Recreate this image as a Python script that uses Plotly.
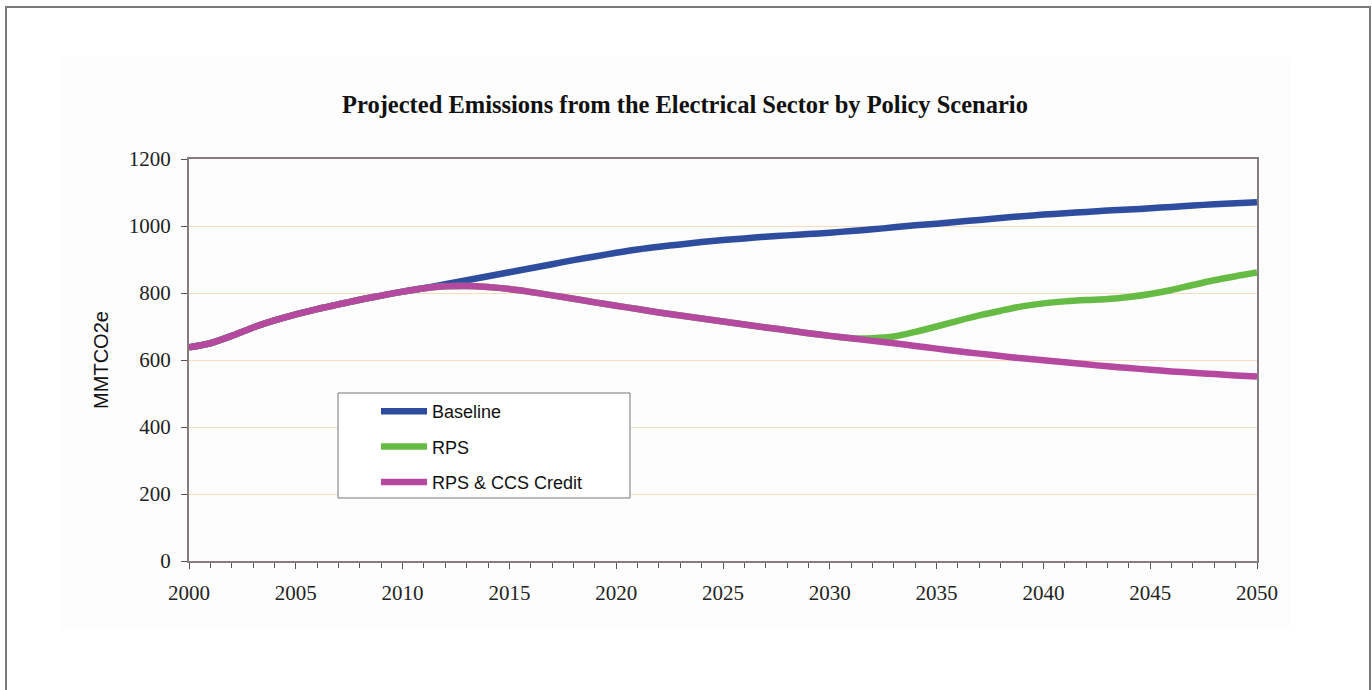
import plotly.graph_objects as go

years = list(range(2000, 2051))

baseline = [638, 650, 672, 697, 718, 736, 752, 766, 780, 792,
            804, 814, 826, 838, 850, 862, 874, 886, 898, 909,
            920, 930, 938, 945, 952, 958, 963, 968, 972, 976,
            980, 985, 990, 996, 1002, 1007, 1013, 1018, 1024, 1029,
            1034, 1038, 1042, 1046, 1049, 1053, 1057, 1061, 1065, 1068,
            1071]

rps_ccs = [638, 650, 672, 697, 718, 736, 752, 766, 780, 792,
           804, 814, 820, 821, 818, 812, 803, 793, 783, 772,
           762, 752, 742, 733, 724, 715, 706, 697, 689, 680,
           672, 665, 657, 650, 642, 634, 626, 619, 612, 605,
           599, 593, 587, 581, 576, 571, 566, 562, 558, 554,
           551]

rps = rps_ccs[:32] + [665, 670, 684, 700, 717, 733, 747, 760,
                      769, 775, 779, 782, 788, 797, 809, 824, 838, 850,
                      861]

series = [
    ("Baseline", baseline, "#2f4d9e"),
    ("RPS", rps, "#66bb44"),
    ("RPS & CCS Credit", rps_ccs, "#b5489f"),
]

fig = go.Figure()
for name, vals, color in series:
    fig.add_trace(go.Scatter(
        x=years, y=vals, name=name, mode="lines",
        line=dict(color=color, width=6.5, shape="spline", smoothing=0.8),
        legendgroup=name,
    ))

serif = "Liberation Serif, Times New Roman, serif"
sans = "Liberation Sans, Arial, sans-serif"

W, H = 1372, 690
L, R, T, B = 189, 115, 159, 129
pw, ph = W - L - R, H - T - B

def px_x(p):
    return (p - L) / pw

def px_y(p):
    return (H - B - p) / ph

fig.update_layout(
    width=W, height=H,
    margin=dict(l=L, r=R, t=T, b=B),
    paper_bgcolor="white",
    plot_bgcolor="white",
    title=dict(
        text="<b>Projected Emissions from the Electrical Sector by Policy Scenario</b>",
        font=dict(family=serif, size=24.5, color="#111"),
        x=px_x(685), xref="paper", xanchor="center",
        y=1 - 104 / H, yanchor="middle",
    ),
    showlegend=True,
    legend=dict(
        x=px_x(376), y=px_y(393), xanchor="left", yanchor="top",
        bgcolor="rgba(0,0,0,0)", borderwidth=0,
        font=dict(family=sans, size=18, color="#111"),
        tracegroupgap=9, itemwidth=46, traceorder="grouped",
    ),
    xaxis=dict(
        range=[2000, 2050], tickmode="linear", tick0=2000, dtick=5,
        ticks="outside", ticklen=6, tickwidth=1, tickcolor="#555",
        minor=dict(dtick=1, ticks="outside", ticklen=5, tickcolor="#555", showgrid=False),
        showline=True, linecolor="#857d7d", linewidth=2, mirror=True,
        showgrid=False, zeroline=False,
        tickfont=dict(family=serif, size=21, color="#222"),
        ticklabelstandoff=6,
    ),
    yaxis=dict(
        range=[0, 1200], tickmode="linear", tick0=0, dtick=200,
        ticks="outside", ticklen=6, tickwidth=1, tickcolor="#555",
        showline=True, linecolor="#857d7d", linewidth=2, mirror=True,
        showgrid=True, gridcolor="#f6dcc0", gridwidth=1, zeroline=False,
        tickfont=dict(family=serif, size=21, color="#222"),
        ticklabelstandoff=6,
        title=dict(text="MMTCO2e", font=dict(family=sans, size=20, color="#111"), standoff=15),
    ),
    shapes=[
        dict(type="rect", xref="paper", yref="paper",
             x0=px_x(60), x1=px_x(1290), y0=px_y(630), y1=px_y(57),
             fillcolor="#fdfdfd", line=dict(width=0), layer="below"),
        dict(type="rect", xref="paper", yref="paper",
             x0=px_x(6), x1=px_x(1370), y0=px_y(700), y1=px_y(7),
             fillcolor="rgba(0,0,0,0)", line=dict(color="#7a7a7a", width=2)),
        dict(type="rect", xref="paper", yref="paper",
             x0=px_x(338), x1=px_x(630), y0=px_y(498), y1=px_y(393),
             fillcolor="white", line=dict(color="#777", width=1), layer="above"),
    ],
)

fig.write_html("out.html")
